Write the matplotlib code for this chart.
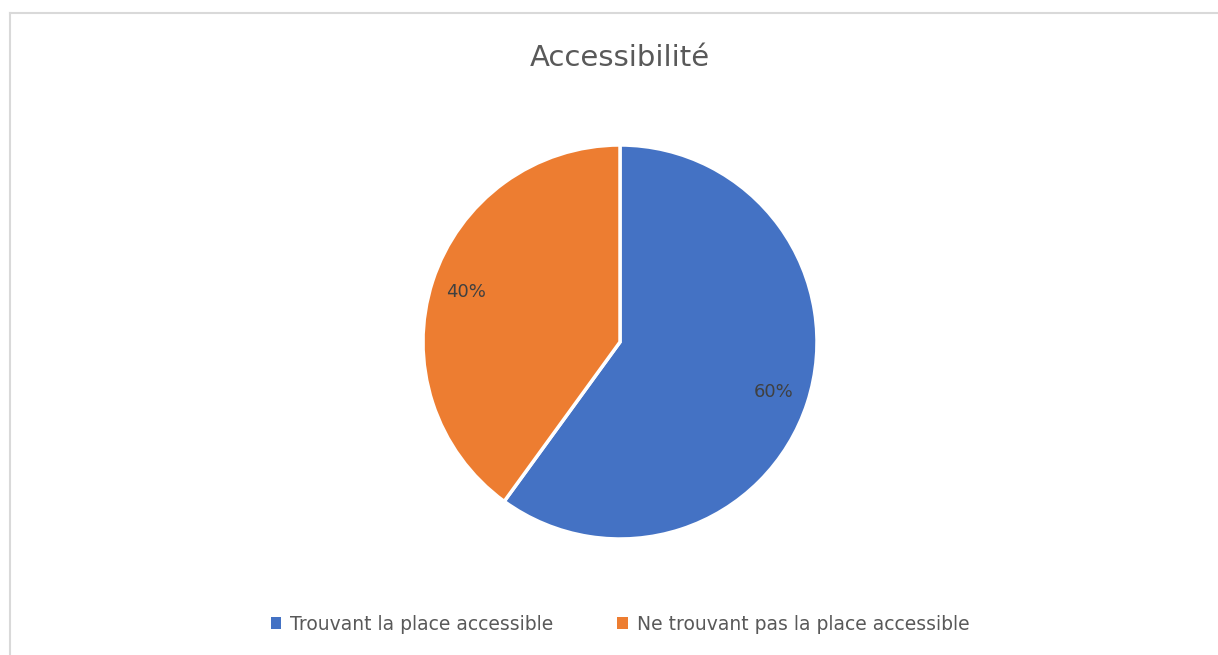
import matplotlib.pyplot as plt
import matplotlib.lines as mlines
import matplotlib.patches as patches

# data
labels = ['Trouvant la place accessible', 'Ne trouvant pas la place accessible']
values = [60, 40]
colors = ['#4472C4', '#ED7D31']

W, H = 1218, 655
fig = plt.figure(figsize=(W / 100, H / 100), dpi=100)
fig.patch.set_facecolor('white')

# chart border (light gray frame)
border = '#D9D9D9'
fig.add_artist(mlines.Line2D([10 / W, 10 / W], [0, 1 - 13 / H], color=border, lw=1.5,
                             transform=fig.transFigure))
fig.add_artist(mlines.Line2D([10 / W, 1], [1 - 13 / H, 1 - 13 / H], color=border, lw=1.5,
                             transform=fig.transFigure))

# pie axes: centre (620, 342), radius 197 px
cx, cy, r = 620, 342, 197
ax = fig.add_axes([(cx - r) / W, 1 - (cy + r) / H, 2 * r / W, 2 * r / H])
wedges, texts, autotexts = ax.pie(values, colors=colors, startangle=90, counterclock=False,
                                  autopct='%1.0f%%', pctdistance=0.82,
                                  wedgeprops={'edgecolor': 'white', 'linewidth': 2.5},
                                  textprops={'fontsize': 13, 'color': '#404040'})
ax.set_xlim(-1, 1)
ax.set_ylim(-1, 1)
ax.set_aspect('equal')

fig.text(cx / W, 1 - 58 / H, 'Accessibilité', ha='center', va='center',
         fontsize=21, color='#595959')

# legend
handles = [patches.Patch(facecolor=c, edgecolor='none') for c in colors]
fig.legend(handles, labels, loc='center', bbox_to_anchor=(cx / W, 1 - 624 / H), ncol=2,
           frameon=False, fontsize=13.5, labelcolor='#595959', handlelength=0.55,
           handleheight=0.55, handletextpad=0.5, columnspacing=3.4)

fig.savefig('out.png', dpi=100, facecolor='white')
